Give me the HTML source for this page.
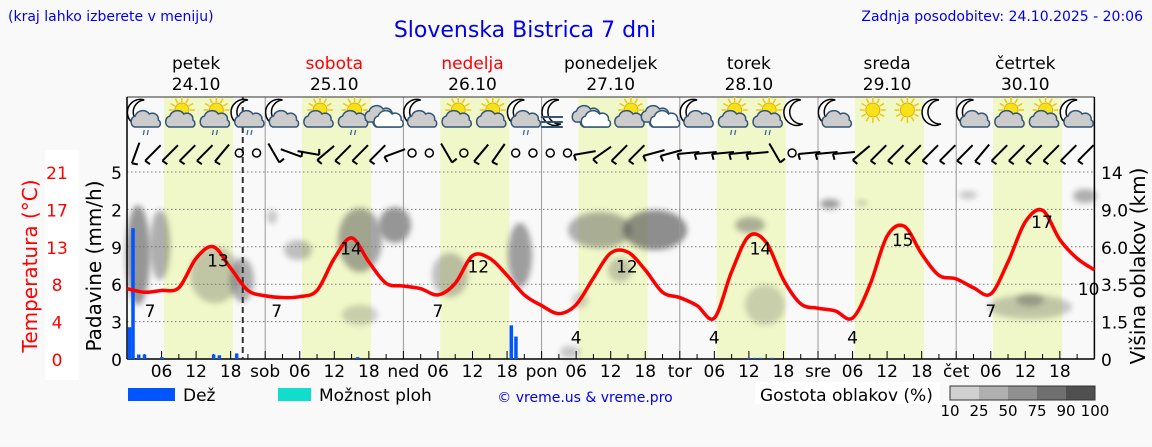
<!DOCTYPE html>
<html><head><meta charset="utf-8">
<style>
body{margin:0;width:1152px;height:443px;overflow:hidden;background:#f8f8f8;font-family:"DejaVu Sans","Liberation Sans",sans-serif;}
svg text{font-family:"DejaVu Sans","Liberation Sans",sans-serif;}
</style></head><body>
<svg id="c" width="1152" height="443" xmlns="http://www.w3.org/2000/svg">
<defs>
<filter id="bl" x="-50%" y="-50%" width="200%" height="200%"><feGaussianBlur stdDeviation="3"/></filter>
</defs>
<rect x="0" y="0" width="1152" height="443" fill="#f9f9f9"/>
<rect x="45" y="150" width="34" height="230" fill="#ffffff"/>
<g id="plot"></g>
<text x="8" y="21" font-size="14" fill="#0000ee">(kraj lahko izberete v meniju)</text>
<text x="525" y="37" font-size="22" fill="#0000ee" text-anchor="middle">Slovenska Bistrica 7 dni</text>
<text x="1143" y="21" font-size="14" fill="#0000ee" text-anchor="end">Zadnja posodobitev: 24.10.2025 - 20:06</text>
<text transform="translate(37,266) rotate(-90)" font-size="20" fill="#ff0000" text-anchor="middle">Temperatura (°C)</text>
<text transform="translate(101,266) rotate(-90)" font-size="20" fill="#000" text-anchor="middle">Padavine (mm/h)</text>
<text transform="translate(1145,266) rotate(-90)" font-size="20" fill="#000" text-anchor="middle">Višina oblakov (km)</text>
<rect x="128" y="388" width="47" height="13" fill="#0055ff"/>
<text x="183" y="401" font-size="17">Dež</text>
<rect x="278" y="388" width="33" height="13" fill="#11ddcc"/>
<text x="319" y="401" font-size="17">Možnost ploh</text>
<text x="585" y="402" font-size="14" fill="#0000ee" text-anchor="middle">© vreme.us &amp; vreme.pro</text>
<rect x="755" y="382" width="185" height="22" fill="#fff"/>
<text x="760" y="401" font-size="17">Gostota oblakov (%)</text>
<g id="cbar"></g>
</svg>
<script>
const temps=[7.9,7.5,7.7,8.0,11.3,12.6,10.2,7.7, 7.1,6.9,7.0,7.7,11.3,13.6,10.9,8.5, 8.2,7.9,7.2,8.5,11.6,11.3,9.4,7.2, 6.0,5.1,6.1,9.1,11.9,12.0,10.0,7.5, 6.9,6.0,4.6,9.8,13.8,13.1,8.9,6.2, 5.7,5.4,4.6,8.3,13.8,14.9,11.8,9.4, 9.0,8.0,7.3,10.9,15.4,16.7,13.4,11.3,10.0];
const tempLabels=["7","13","7","14","7","12","4","12","4","14","4","15","7","17","10"];
const tempLabelHours=[4,15.8,26,38.9,54,61,78,86.8,102,110,126,134.7,150,158.9,167];
const tempLabelVals=[5.5,11.2,5.5,12.5,5.5,10.5,2.5,10.5,2.5,12.5,2.5,13.5,5.5,15.5,8];
const precipHours=[0.4,1,2,3,6,15,16,19,40,66.7,67.5,108,109,110,112];
const precipVals=[0.85,3.5,0.12,0.12,0.05,0.12,0.1,0.15,0.05,0.9,0.6,0.03,0.03,0.03,0.03];
const dayNames=["petek","sobota","nedelja","ponedeljek","torek","sreda","četrtek"];
const dayDates=["24.10","25.10","26.10","27.10","28.10","29.10","30.10"];
const dayAbbr=["","sob","ned","pon","tor","sre","čet"];
const leftTicks=["5","2","9","6","3","0"];
const tempTicks=["21","17","13","8","4","0"];
const rightTicks=["14","9.0","6.0","3.5","1.5","0"];
const icons=["mcr","sc","scr","mcr","mc","sc","scr","c","mc","sc","sc","mcr","mf","c","sc","c","mc","scr","scr","m","mc","s","s","m","mc","sc","sc","mc"];
const wind=[70,45,45,45,45,50,-1,-1, 120,160,170,40,45,45,45,20, -1,-1,120,-1,50,55,-1,-1, -1,-1,10,35,45,45,15,15, 5,5,5,5,5,120,-1,5, 5,5,40,45,45,45,45,45, 45,50,45,45,45,45,45,45];
const cloudBlobs=[[138,255,12,50,0.6],[160,245,10,35,0.45],[215,275,25,28,0.3],[242,280,12,22,0.45],[298,250,14,10,0.35],[272,217,5,7,0.3],[360,240,22,32,0.5],[395,225,16,18,0.6],[360,315,18,10,0.25],[450,275,18,22,0.35],[520,255,12,32,0.55],[600,230,32,18,0.45],[655,230,32,20,0.65],[620,270,12,12,0.3],[750,225,15,8,0.45],[765,305,20,20,0.25],[830,204,10,5,0.55],[862,203,5,3,0.3],[968,195,9,4,0.3],[1085,196,12,7,0.45],[1030,307,42,12,0.3],[1030,300,14,6,0.4],[570,352,10,6,0.3],[580,300,8,8,0.25]];

const ns="http://www.w3.org/2000/svg";
const g=document.getElementById('plot');
const X0=127,DW=138.2,Y0=359,H=187;
const xH=h=>X0+h*DW/24;
const yT=t=>Y0-t*H/21;
const yP=p=>Y0-p*H/5;
function el(tag,attrs,parent){const e=document.createElementNS(ns,tag);for(const k in attrs)e.setAttribute(k,attrs[k]);(parent||g).appendChild(e);return e;}
function tx(x,y,s,attrs){const e=el('text',Object.assign({x:x,y:y},attrs||{}));e.textContent=s;return e;}

el('rect',{x:X0,y:97,width:7*DW,height:Y0-97,fill:'#f9f9f9'});
for(let d=0;d<7;d++){
  const r=el('rect',{x:xH(d*24+6.4),y:97,width:12*DW/24,height:Y0-97,fill:'#f0f7c8'});
  
  
}
cloudBlobs.forEach(b=>{
  const e=el('ellipse',{cx:b[0],cy:b[1],rx:b[2],ry:b[3],fill:'#555',opacity:b[4],filter:'url(#bl)'});
  
  
});
for(let i=1;i<6;i++){
  const y=Y0-i*H/5;
  el('line',{x1:X0,x2:X0+7*DW,y1:y,y2:y,stroke:'#777','stroke-dasharray':'1.5,2.5','stroke-width':1});
}
for(let i=0;i<6;i++){
  const y=172+i*H/5;
  const l=tx(122,y+7,leftTicks[i],{'font-size':17,'text-anchor':'end'});
  
  const t=tx(57,y+7,tempTicks[i],{'font-size':17,'text-anchor':'middle',fill:'#ff0000'});
  
  const r=tx(1101,y+7,rightTicks[i],{'font-size':17});
  
}
for(let d=0;d<7;d++){
  if(d>0)el('line',{x1:xH(d*24),x2:xH(d*24),y1:97,y2:Y0,stroke:'#999','stroke-width':1});
  const cx=xH(d*24+12),col=(d==1||d==2)?'#ff0000':'#000';
  const n=tx(cx,69,dayNames[d],{'font-size':17,'text-anchor':'middle',fill:col});
  
  const dt=tx(cx,90,dayDates[d],{'font-size':17,'text-anchor':'middle'});
  
  for(let h=0;h<24;h+=3){el('line',{x1:xH(d*24+h),x2:xH(d*24+h),y1:Y0,y2:Y0-(h%6==0?8:5),stroke:'#000'});}
  ['06','12','18'].forEach((s,i)=>{const e=tx(xH(d*24+6*(i+1)),377,s,{'font-size':17,'text-anchor':'middle'});
    });
  if(dayAbbr[d]){const e=tx(xH(d*24),377,dayAbbr[d],{'font-size':17,'text-anchor':'middle'});
    }
}
el('line',{x1:X0,x2:X0+7*DW,y1:97,y2:97,stroke:'#333'});
el('line',{x1:X0,x2:X0,y1:97,y2:Y0,stroke:'#000','stroke-width':1.5});
el('line',{x1:X0+7*DW,x2:X0+7*DW,y1:97,y2:Y0,stroke:'#000','stroke-width':1.5});
el('line',{x1:X0,x2:X0+7*DW,y1:Y0,y2:Y0,stroke:'#000','stroke-width':1.5});
el('line',{x1:xH(20.1),x2:xH(20.1),y1:97,y2:Y0,stroke:'#333','stroke-width':2,'stroke-dasharray':'6,4'});
precipHours.forEach((h,i)=>{
  const y=yP(precipVals[i]);
  const b=el('rect',{x:xH(h)-1.5,y:y,width:3.5,height:Y0-y,fill:'#0055ff'});
  
});
(function(){
  const pts=temps.map((t,i)=>[xH(i*3),yT(t)]);
  let d='M'+pts[0][0]+','+pts[0][1];
  for(let i=0;i<pts.length-1;i++){
    const p0=pts[Math.max(0,i-1)],p1=pts[i],p2=pts[i+1],p3=pts[Math.min(pts.length-1,i+2)];
    d+=' C'+(p1[0]+(p2[0]-p0[0])/6)+','+(p1[1]+(p2[1]-p0[1])/6)+' '+(p2[0]-(p3[0]-p1[0])/6)+','+(p2[1]-(p3[1]-p1[1])/6)+' '+p2[0]+','+p2[1];
  }
  const p=el('path',{d:d,fill:'none',stroke:'#ff0000','stroke-width':3.5,'stroke-linejoin':'round'});
  
})();
tempLabels.forEach((s,i)=>{
  const e=tx(xH(tempLabelHours[i]),yT(tempLabelVals[i])+7,s,{'font-size':17,'text-anchor':'middle'});
  
});
function sun(gr,cx,cy){for(let a=0;a<360;a+=30){const r=a*Math.PI/180;el('line',{x1:cx+8*Math.cos(r),y1:cy+8*Math.sin(r),x2:cx+13*Math.cos(r),y2:cy+13*Math.sin(r),stroke:'#f0c800','stroke-width':1.5},gr);}el('circle',{cx:cx,cy:cy,r:7,fill:'#f7e21a',stroke:'#e0b000'},gr);}
function moon(gr,cx,cy){el('path',{d:`M${cx+4},${cy-13} A13,13 0 1,0 ${cx+6},${cy+11} A11,11 0 1,1 ${cx+4},${cy-13}Z`,fill:'#fff',stroke:'#000','stroke-width':1.5},gr);}
function cloud(gr,cx,cy,fill,st){el('path',{d:`M${cx-12},${cy+7} a6,6 0 0,1 1,-11 a8,8 0 0,1 14,-2 a6,6 0 0,1 9,6 a4,4 0 0,1 0,7 Z`,fill:fill,stroke:st,'stroke-width':1.5},gr);}
function rain(gr,cx,cy){for(let i=0;i<2;i++)el('line',{x1:cx-2+i*4,y1:cy,x2:cx-3+i*4,y2:cy+5,stroke:'#4466aa','stroke-width':1.3},gr);}
icons.forEach((t,i)=>{
  const cx=xH(i*6+3),cy=115;
  const gr=el('g',{});
  
  if(t[0]=='m'){moon(gr,cx-4,cy-2);}
  if(t[0]=='s'){sun(gr,cx+3,cy-5);}
  if(t=='mf'){for(let k=0;k<3;k++)el('line',{x1:cx-18,x2:cx+4,y1:cy+2+k*5,y2:cy+2+k*5,stroke:'#335577','stroke-width':2},gr);}
  if(t.indexOf('c')>=0){cloud(gr,cx+2,cy+5,t[0]=='c'?'#fff':'#ccc','#335577');}
  if(t=='c'){cloud(gr,cx-6,cy,'#ccc','#335577');cloud(gr,cx+3,cy+5,'#fff','#335577');}
  if(t[t.length-1]=='r')rain(gr,cx+2,cy+15);
});
wind.forEach((a,i)=>{
  const cx=xH(i*3+1.5),cy=153;
  const gr=el('g',{});
  
  if(a<0){el('circle',{cx:cx,cy:cy,r:4,fill:'none',stroke:'#000','stroke-width':1.5},gr);return;}
  const r=a*Math.PI/180,dx=11*Math.cos(r),dy=-11*Math.sin(r);
  el('line',{x1:cx-dx,y1:cy-dy,x2:cx+dx,y2:cy+dy,stroke:'#000','stroke-width':2},gr);
  el('line',{x1:cx-dx,y1:cy-dy,x2:cx-dx+6*Math.cos(r-1.4),y2:cy-dy-6*Math.sin(r-1.4),stroke:'#000','stroke-width':2},gr);
});
const cb=document.getElementById('cbar');
const cbCols=['#d0d0d0','#b0b0b0','#909090','#707070','#505050'];
const cbLabels=['10','25','50','75','90','100'];
cbCols.forEach((c,i)=>{el('rect',{x:950+i*29,y:386,width:29,height:14,fill:c},cb);});
el('rect',{x:950,y:386,width:145,height:14,fill:'none',stroke:'#333'},cb);
cbLabels.forEach((s,i)=>{const e=tx(950+i*29,416,s,{'font-size':15,'text-anchor':'middle'});cb.appendChild(e);});
</script>
</body></html>
